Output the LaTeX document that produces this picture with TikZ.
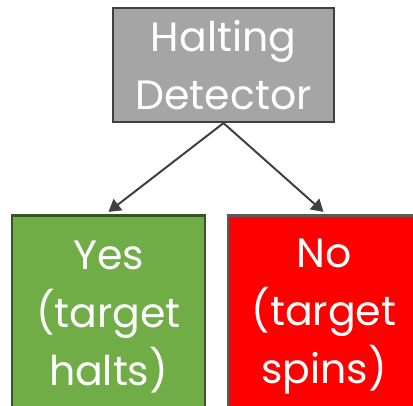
\documentclass[tikz,border=0pt]{standalone}
\usepackage{fontspec}
\setmainfont{Poppins}
\usetikzlibrary{arrows.meta}
\definecolor{boxgray}{HTML}{A5A5A5}
\definecolor{edgegray}{HTML}{404040}
\definecolor{boxgreen}{HTML}{70AD47}
\definecolor{edgegreen}{HTML}{375623}
\definecolor{boxred}{HTML}{FF0000}
\definecolor{edgered}{HTML}{5A5A5A}
\begin{document}
\begin{tikzpicture}[x=1pt,y=1pt,
  box/.style={draw, line width=2.2pt, inner sep=0pt, align=center, text=white,
    font=\fontsize{41}{58}\selectfont},
  conn/.style={draw=edgegray, line width=2pt, -{Triangle[length=12pt,width=14pt]}}]
\clip (0,0) rectangle (413,406);
\useasboundingbox (0,0) rectangle (413,406);
\node[box, fill=boxgray, draw=edgegray, minimum width=221pt, minimum height=114pt] (det) at (223.5,341) {Halting\\Detector};
\node[box, fill=boxgreen, draw=edgegreen, minimum width=193pt, minimum height=203pt] (yes) at (108.5,89) {Yes\\(target\\halts)};
\node[box, fill=boxred, draw=edgered, minimum width=192pt, minimum height=203pt] (no) at (324,89) {No\\(target\\spins)};
\draw[conn] (det.south) -- ([yshift=2.5pt]yes.north);
\draw[conn] (det.south) -- ([xshift=-0.5pt,yshift=2.5pt]no.north);
\end{tikzpicture}
\end{document}
